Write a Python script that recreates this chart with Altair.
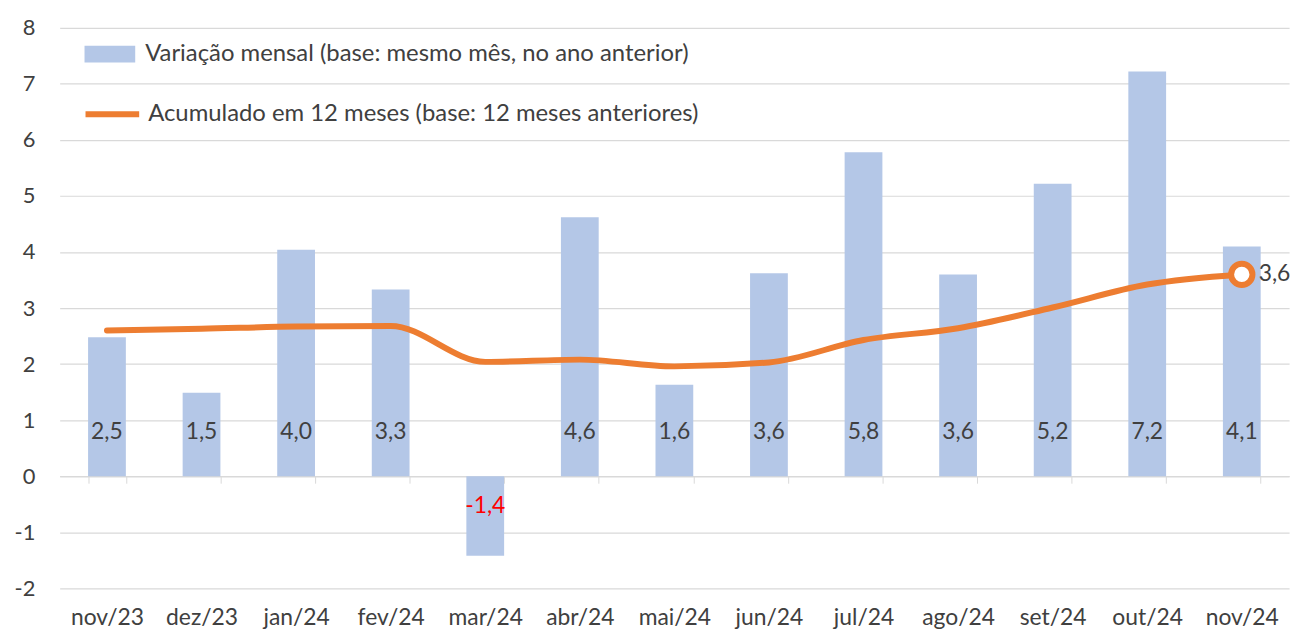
import altair as alt
import pandas as pd

meses = ["nov/23", "dez/23", "jan/24", "fev/24", "mar/24", "abr/24", "mai/24",
         "jun/24", "jul/24", "ago/24", "set/24", "out/24", "nov/24"]
mensal = [2.48, 1.49, 4.04, 3.33, -1.42, 4.62, 1.63, 3.62, 5.78, 3.60, 5.22, 7.22, 4.10]
acumulado = [2.60, 2.63, 2.67, 2.68, 2.04, 2.08, 1.96, 2.03, 2.43, 2.64, 3.01, 3.42, 3.60]

serie_bar = "Variação mensal (base: mesmo mês, no ano anterior)"
serie_line = "Acumulado em 12 meses (base: 12 meses anteriores)"

def br(v):
    return f"{v:.1f}".replace(".", ",")

df = pd.DataFrame({
    "mes": meses,
    "mensal": mensal,
    "acumulado": acumulado,
    "lab_mensal": [br(v) for v in mensal],
    "lab_acum": [br(v) for v in acumulado],
    "s_bar": serie_bar,
    "s_line": serie_line,
})

FONT = "Lato"
FS = 23
FS_LEG = 24
TXT = "#404040"

x = alt.X("mes:N", sort=meses, title=None,
          scale=alt.Scale(paddingInner=0.6, paddingOuter=0.3),
          axis=alt.Axis(orient="bottom", offset=-112.8, domainColor="#d9d9d9",
                        domainWidth=1.5, tickColor="#d9d9d9", tickSize=7,
                        tickBand="extent", tickExtra=True, labelAngle=0,
                        labelPadding=124, labelFontSize=FS, labelColor=TXT,
                        labelFont=FONT, grid=False))
yscale = alt.Scale(domain=[-2, 8], nice=False, zero=False)
yaxis = alt.Axis(values=list(range(-2, 9)), labelExpr="'' + datum.value",
                 grid=True, gridColor="#d9d9d9",
                 gridWidth=1.2, domain=False, ticks=False, labelPadding=25,
                 labelFontSize=FS - 1, labelColor=TXT, labelFont=FONT, title=None)

base = alt.Chart(df)

bars = base.mark_bar(size=38).encode(
    x=x,
    y=alt.Y("mensal:Q", scale=yscale, axis=yaxis),
    color=alt.Color("s_bar:N", scale=alt.Scale(domain=[serie_bar], range=["#B4C7E7"]),
                    legend=alt.Legend(orient="none", legendX=25, legendY=1, title=None,
                                      symbolType="M-1,-0.33H1V0.33H-1Z", symbolSize=2601,
                                      symbolStrokeWidth=0, labelFontSize=FS_LEG,
                                      labelColor=TXT, labelFont=FONT, labelOffset=10,
                                      labelLimit=0, padding=0)),
)

bar_labels = base.transform_calculate(
    ly="datum.mensal > 0 ? 0.78 : -0.53",
).mark_text(fontSize=FS, font=FONT, baseline="middle").encode(
    x=alt.X("mes:N", sort=meses),
    y=alt.Y("ly:Q", scale=yscale),
    text="lab_mensal:N",
    color=alt.condition("datum.mensal < 0", alt.value("#FF0000"), alt.value(TXT)),
)

line = base.mark_line(strokeWidth=6, interpolate="monotone", strokeCap="round").encode(
    x=alt.X("mes:N", sort=meses),
    y=alt.Y("acumulado:Q", scale=yscale),
    stroke=alt.Stroke("s_line:N", scale=alt.Scale(domain=[serie_line], range=["#ED7D31"]),
                      legend=alt.Legend(orient="none", legendX=23, legendY=57, title=None,
                                        symbolType="stroke", symbolSize=2916,
                                        symbolStrokeWidth=6, labelFontSize=FS_LEG,
                                        labelColor=TXT, labelFont=FONT, labelOffset=6,
                                        labelLimit=0, padding=0)),
)

last = base.transform_filter(alt.datum.mes == "nov/24")

end_point = last.mark_point(filled=True, fill="white", stroke="#ED7D31",
                            strokeWidth=6, size=460, opacity=1).encode(
    x=alt.X("mes:N", sort=meses),
    y=alt.Y("acumulado:Q", scale=yscale),
)

end_label = last.mark_text(fontSize=FS, font=FONT, color=TXT, align="left",
                           dx=17, baseline="middle").encode(
    x=alt.X("mes:N", sort=meses),
    y=alt.Y("acumulado:Q", scale=yscale),
    text="lab_acum:N",
)

chart = alt.layer(bars, bar_labels, line, end_point, end_label).resolve_legend(
    color="independent", stroke="independent"
).properties(
    width=1237, height=564,
    autosize=alt.AutoSizeParams(type="none"),
    padding={"left": 52, "top": 18, "right": 12, "bottom": 40},
).configure(background="white").configure_view(stroke=None)

chart.save("out.html", embed_options={"renderer": "svg", "actions": False})
